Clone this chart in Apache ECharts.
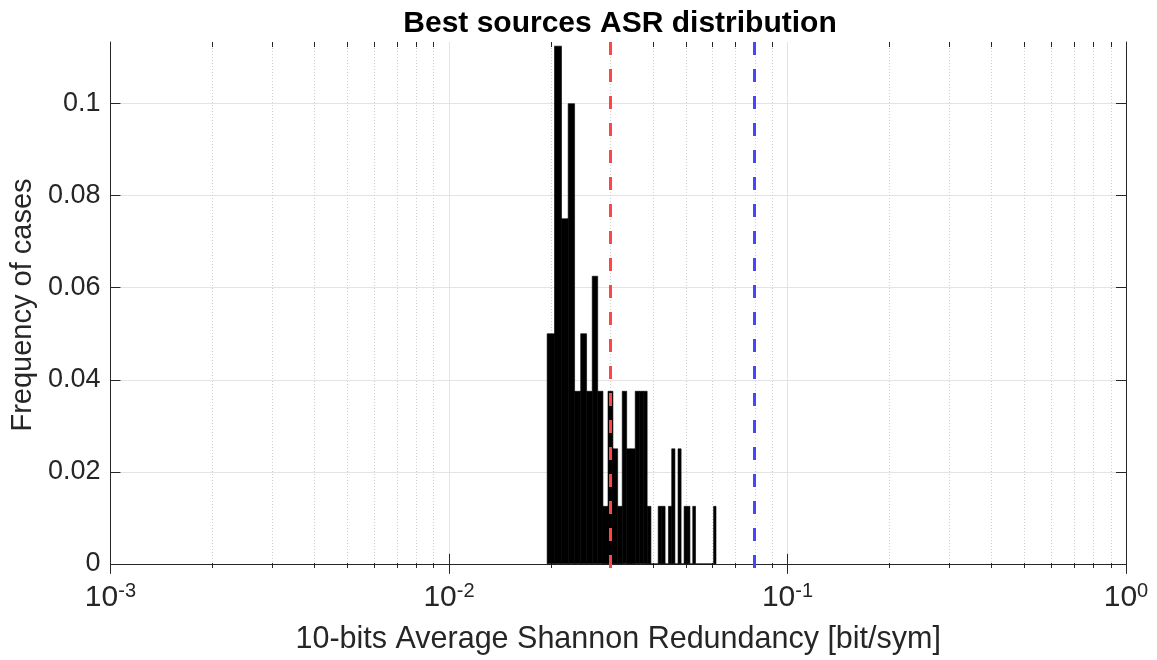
<!DOCTYPE html>
<html>
<head>
<meta charset="utf-8">
<script src="https://cdn.jsdelivr.net/npm/echarts@6/dist/echarts.min.js"></script>
<style>
html, body { margin: 0; padding: 0; background: #fff; }
#chart { width: 1157px; height: 660px; }
</style>
</head>
<body>
<div id="chart"></div>
<script>
// histogram bins (bit/sym) and frequency of cases per bin
var binEdges = [0.0195, 0.0205, 0.0215, 0.0225, 0.0235, 0.0245, 0.0255, 0.0265, 0.0275, 0.0285,
    0.0295, 0.0305, 0.0315, 0.0325, 0.0335, 0.0345, 0.0355, 0.0365, 0.0375, 0.0385,
    0.0395, 0.0405, 0.0415, 0.0425, 0.0435, 0.0445, 0.0455, 0.0465, 0.0475, 0.0485,
    0.0495, 0.0505, 0.0515, 0.0525, 0.0535, 0.0545, 0.0555, 0.0565, 0.0575, 0.0585,
    0.0595, 0.0605, 0.0615]
var binFreq = [0.05, 0.1125, 0.075, 0.1, 0.0375, 0.05, 0.0375, 0.0625, 0.0375, 0.0125,
    0.0375, 0.025, 0.0125, 0.0375, 0.025, 0.025, 0.0375, 0.0375, 0.0375, 0.0125,
    0, 0, 0.0125, 0.0125, 0, 0.0125, 0.025, 0, 0.025, 0,
    0.0125, 0.0125, 0, 0.0125, 0, 0, 0, 0, 0, 0,
    0, 0.0125]
var redLine = 0.031
var blueLine = 0.083
var yTicks = [0, 0.02, 0.04, 0.06, 0.08, 0.1]
var decades = [0.001, 0.01, 0.1]
var minorSteps = [2, 3, 4, 5, 6, 7, 8, 9]

var yMin = -0.0009
var yMax = 0.1134
var axisColor = '#262626'
var font = '"Liberation Sans", Arial, Helvetica, sans-serif'

var bins = binFreq.map(function (f, i) {
    return [binEdges[i], binEdges[i + 1], f]
})
var minorVals = []
decades.forEach(function (d) {
    minorSteps.forEach(function (m) {
        minorVals.push([+(d * m).toPrecision(3), 0])
    })
})

var chart = echarts.init(document.getElementById('chart'))
chart.setOption({
    animation: false,
    backgroundColor: '#fff',
    title: {
        text: 'Best sources ASR distribution',
        left: 615,
        textAlign: 'center',
        top: 4,
        textStyle: { fontFamily: font, fontSize: 30, fontWeight: 'bold', color: '#000' }
    },
    grid: { left: 105, right: 31, top: 42, bottom: 90 },
    xAxis: [{
        type: 'log',
        logBase: 10,
        min: 0.001,
        max: 1,
        position: 'bottom',
        name: '10-bits Average Shannon Redundancy [bit/sym]',
        nameLocation: 'middle',
        nameGap: 56,
        nameTextStyle: { fontFamily: font, fontSize: 30.5, color: axisColor },
        axisLine: { show: true, lineStyle: { color: axisColor, width: 1 } },
        axisTick: { show: true, inside: true, length: 10, lineStyle: { color: axisColor } },
        splitLine: { show: true, lineStyle: { color: '#e3e3e3', width: 1 } },
        axisLabel: {
            margin: 13,
            formatter: function (v) {
                return '{b|10}{e|' + Math.round(Math.log10(v)) + '}'
            },
            rich: {
                b: { fontFamily: font, fontSize: 30, color: axisColor, verticalAlign: 'bottom', lineHeight: 32 },
                e: { fontFamily: font, fontSize: 20, color: axisColor, verticalAlign: 'top', lineHeight: 32, padding: [0, 0, 15, 0] }
            }
        }
    }, {
        type: 'log',
        logBase: 10,
        min: 0.001,
        max: 1,
        position: 'top',
        axisLine: { show: true, lineStyle: { color: axisColor, width: 1 } },
        axisTick: { show: true, inside: true, length: 10, lineStyle: { color: axisColor } },
        axisLabel: { show: false },
        splitLine: { show: false }
    }],
    yAxis: [{
        type: 'value',
        min: yMin,
        max: yMax,
        position: 'left',
        name: 'Frequency of cases',
        nameLocation: 'middle',
        nameGap: 64,
        nameTextStyle: { fontFamily: font, fontSize: 29, color: axisColor },
        axisLine: { show: true, lineStyle: { color: axisColor, width: 1 } },
        axisTick: { show: true, inside: true, length: 10, customValues: yTicks, lineStyle: { color: axisColor } },
        splitLine: { show: true, lineStyle: { color: '#e3e3e3', width: 1 } },
        axisLabel: {
            customValues: yTicks,
            margin: 10,
            fontFamily: font,
            fontSize: 27,
            color: axisColor,
            formatter: function (v) {
                return String(+v.toFixed(3))
            }
        }
    }, {
        type: 'value',
        min: yMin,
        max: yMax,
        position: 'right',
        axisLine: { show: true, lineStyle: { color: axisColor, width: 1 } },
        axisTick: { show: true, inside: true, length: 10, customValues: yTicks, lineStyle: { color: axisColor } },
        axisLabel: { show: false },
        splitLine: { show: false }
    }],
    series: [{
        // minor log grid lines and minor ticks
        type: 'custom',
        silent: true,
        z: 1,
        data: minorVals,
        encode: { x: 0, y: 1 },
        renderItem: function (params, api) {
            var cs = params.coordSys
            var x = Math.round(api.coord([api.value(0), 0])[0]) + 0.5
            var bottom = cs.y + cs.height
            return {
                type: 'group',
                children: [{
                    type: 'line',
                    shape: { x1: x, y1: cs.y, x2: x, y2: bottom },
                    style: { stroke: '#d0d0d0', lineWidth: 1, lineDash: [1, 2] }
                }, {
                    type: 'line',
                    shape: { x1: x, y1: bottom, x2: x, y2: bottom - 5 },
                    style: { stroke: axisColor, lineWidth: 1 }
                }, {
                    type: 'line',
                    shape: { x1: x, y1: cs.y, x2: x, y2: cs.y + 5 },
                    style: { stroke: axisColor, lineWidth: 1 }
                }]
            }
        }
    }, {
        // histogram bars
        type: 'custom',
        z: 3,
        data: bins,
        encode: { x: [0, 1], y: 2 },
        renderItem: function (params, api) {
            var lo = api.coord([api.value(0), 0])
            var hi = api.coord([api.value(1), api.value(2)])
            return {
                type: 'rect',
                shape: { x: lo[0], y: hi[1], width: hi[0] - lo[0], height: lo[1] - hi[1] },
                style: { fill: '#000', stroke: '#000', lineWidth: 0.6 }
            }
        }
    }, {
        type: 'line',
        data: [],
        z: 4,
        markLine: {
            silent: true,
            symbol: 'none',
            label: { show: false },
            animation: false,
            data: [
                { xAxis: redLine, lineStyle: { color: '#ff4646', width: 3, type: [13, 14] } },
                { xAxis: blueLine, lineStyle: { color: '#4646ff', width: 3, type: [13, 14] } }
            ]
        }
    }]
})
</script>
</body>
</html>
